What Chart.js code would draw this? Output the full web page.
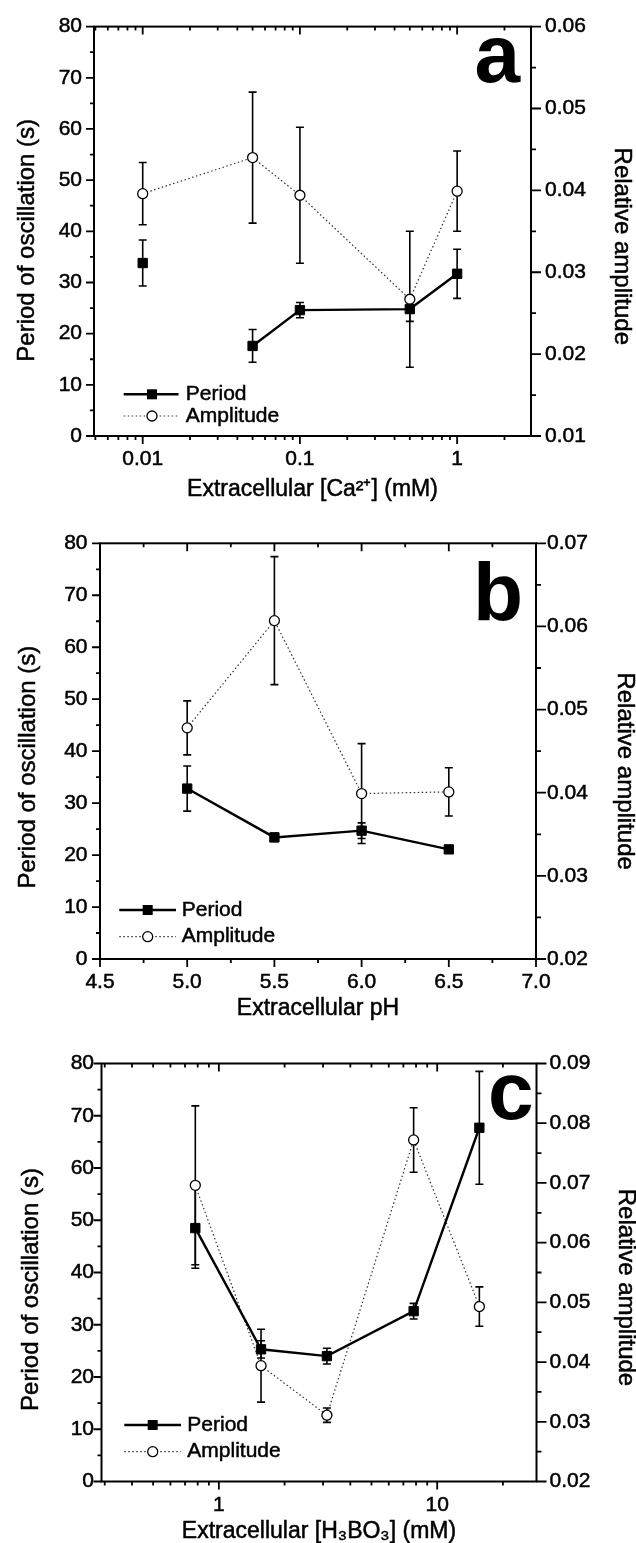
<!DOCTYPE html>
<html>
<head>
<meta charset="utf-8">
<script src="https://cdn.jsdelivr.net/npm/chart.js@4.4.1/dist/chart.umd.min.js"></script>
<style>
html, body { margin: 0; padding: 0; background: #fff; overflow: hidden; }
#wrap { position: relative; width: 636px; height: 1543px; }
canvas { position: absolute; left: 0; }
</style>
</head>
<body>
<div id="wrap">
  <canvas id="chartA" width="636" height="515" style="top:0px"></canvas>
  <canvas id="chartB" width="636" height="523" style="top:515px"></canvas>
  <canvas id="chartC" width="636" height="531" style="top:1030px"></canvas>
</div>
<script>
// (a) calcium
const caConc = [0.01, 0.05, 0.1, 0.5, 1];
const caPeriod = [33.8, 17.6, 24.6, 24.8, 31.7];
const caPeriodErr = [4.5, 3.2, 1.5, 2.4, 4.8];
const caAmp = [0.0396, 0.0440, 0.0394, 0.0267, 0.0399];
const caAmpErr = [0.0038, 0.0080, 0.0083, 0.0083, 0.0049];

// (b) pH
const phValues = [5.0, 5.5, 6.0, 6.5];
const phPeriod = [32.8, 23.4, 24.7, 21.1];
const phPeriodErr = [4.35, 0.8, 1.5, 0.6];
const phAmp = [0.0478, 0.0607, 0.0399, 0.0401];
const phAmpErr = [0.00325, 0.0077, 0.0060, 0.0029];

// (c) boric acid
const boricConc = [0.78, 1.56, 3.125, 7.8, 15.6];
const boricPeriod = [48.5, 25.3, 24.0, 32.6, 67.7];
const boricPeriodErr = [7.7, 1.65, 1.5, 1.5, 10.8];
const boricAmp = [0.0696, 0.0394, 0.0311, 0.0772, 0.0493];
const boricAmpErr = [0.0133, 0.0061, 0.0012, 0.0054, 0.0033];

// tick labels
const periodTicks = [0, 10, 20, 30, 40, 50, 60, 70, 80];
const caTicks = [0.01, 0.1, 1];
const phTicks = [4.5, 5.0, 5.5, 6.0, 6.5, 7.0];
const boricTicks = [1, 10];
const ampTicksA = [0.01, 0.02, 0.03, 0.04, 0.05, 0.06];
const ampTicksB = [0.02, 0.03, 0.04, 0.05, 0.06, 0.07];
const ampTicksC = [0.02, 0.03, 0.04, 0.05, 0.06, 0.07, 0.08, 0.09];

const leftTitle = 'Period of oscillation (s)';
const rightTitle = 'Relative amplitude';

Chart.defaults.font.family = "'Liberation Sans', Arial, sans-serif";
Chart.defaults.color = '#000';

const FONT = "'Liberation Sans', Arial, sans-serif";
const INK = 0.5;   // slight stroke so text looks as heavy as the print

const panels = [
    {
        canvas: 'chartA', letter: 'a',
        xType: 'logarithmic', xMin: 0.0049, xMax: 2.95, xTicks: caTicks, xFmt: v => String(v),
        xs: caConc, period: caPeriod, periodErr: caPeriodErr, periodBreak: 0,
        amp: caAmp, ampErr: caAmpErr,
        rMin: 0.01, rMax: 0.06, rTicks: ampTicksA,
        xTitle: 'Extracellular [Ca²⁺] (mM)',
        box: { padTop: 24.5, leftW: 94, rightW: 105, xH: 79 },
        pads: { left: 12, right: 14 },
        titles: { xDy: 54, lx: 27, lDy: 9, rx: 621.7, rDy: 15 },
        leg: { x0: 29.7, x1: 84.5, mx: 58, tx: 91.8, r1: -41.7, r2: -20 },
        let: { dx: -11, dy: 55.5 }
    },
    {
        canvas: 'chartB', letter: 'b',
        xType: 'linear', xMin: 4.5, xMax: 7.0, xTicks: phTicks, xFmt: v => v.toFixed(1),
        xs: phValues, period: phPeriod, periodErr: phPeriodErr, periodBreak: -1,
        amp: phAmp, ampErr: phAmpErr,
        rMin: 0.02, rMax: 0.07, rTicks: ampTicksB,
        xTitle: 'Extracellular pH',
        box: { padTop: 28.3, leftW: 100, rightW: 100, xH: 79 },
        pads: { left: 12.5, right: 11 },
        titles: { xDy: 50, lx: 28, lDy: 16, rx: 624.5, rDy: 20 },
        leg: { x0: 19.3, x1: 76, mx: 47.7, tx: 81.7, r1: -49, r2: -22.3 },
        let: { dx: -13, dy: 76.7 }
    },
    {
        canvas: 'chartC', letter: 'c',
        xType: 'logarithmic', xMin: 0.29, xMax: 28.5, xTicks: boricTicks, xFmt: v => String(v),
        xs: boricConc, period: boricPeriod, periodErr: boricPeriodErr, periodBreak: -1,
        amp: boricAmp, ampErr: boricAmpErr,
        rMin: 0.02, rMax: 0.09, rTicks: ampTicksC,
        xTitle: 'Extracellular [H₃BO₃] (mM)',
        box: { padTop: 33.5, leftW: 101.5, rightW: 99.5, xH: 79.5 },
        pads: { left: 7.5, right: 13 },
        titles: { xDy: 50, lx: 31, lDy: 17, rx: 626, rDy: 15 },
        leg: { x0: 22.8, x1: 79.5, mx: 51.2, tx: 85.8, r1: -56.5, r2: -29.8 },
        let: { dx: -3, dy: 55.5 }
    }
];

// major + minor tick positions for an axis
function tickMarks(scale, majors) {
    const out = [];
    if (scale.type === 'logarithmic') {
        const e0 = Math.floor(Math.log10(scale.min));
        const e1 = Math.ceil(Math.log10(scale.max));
        for (let e = e0; e <= e1; e++) {
            for (let k = 1; k <= 9; k++) {
                const v = k * Math.pow(10, e);
                if (v >= scale.min * 0.999 && v <= scale.max * 1.001) out.push({ v, major: k === 1 });
            }
        }
    } else {
        for (let i = 0; i < majors.length; i++) {
            out.push({ v: majors[i], major: true });
            if (i < majors.length - 1) out.push({ v: (majors[i] + majors[i + 1]) / 2, major: false });
        }
    }
    return out;
}

function inkText(ctx, text, x, y) {
    ctx.fillText(text, x, y);
    ctx.strokeText(text, x, y);
}

// error bars under the lines and markers
const errorBars = {
    id: 'errorBars',
    beforeDatasetsDraw(chart) {
        const ctx = chart.ctx;
        ctx.save();
        ctx.strokeStyle = '#000';
        ctx.lineWidth = 1.6;
        chart.data.datasets.forEach((ds, i) => {
            const meta = chart.getDatasetMeta(i);
            const xs = chart.scales[meta.xAxisID];
            const ys = chart.scales[meta.yAxisID];
            ds.data.forEach((p, j) => {
                const e = ds.errors[j];
                const px = xs.getPixelForValue(p.x);
                const yHi = ys.getPixelForValue(p.y + e);
                const yLo = ys.getPixelForValue(p.y - e);
                ctx.beginPath();
                ctx.moveTo(px, yHi); ctx.lineTo(px, yLo);
                ctx.moveTo(px - 4, yHi); ctx.lineTo(px + 4, yHi);
                ctx.moveTo(px - 4, yLo); ctx.lineTo(px + 4, yLo);
                ctx.stroke();
            });
        });
        ctx.restore();
    }
};

// frame, tick marks, axis titles, legend and panel letter
const decorations = {
    id: 'decorations',
    afterDraw(chart, args, opts) {
        const p = opts.panel;
        const ctx = chart.ctx;
        const { left, right, top, bottom } = chart.chartArea;
        const midY = (top + bottom) / 2;
        ctx.save();
        ctx.strokeStyle = '#000';
        ctx.lineWidth = 2;
        ctx.strokeRect(left, top, right - left, bottom - top);

        ctx.lineWidth = 1.8;
        ctx.beginPath();
        tickMarks(chart.scales.x, p.xTicks).forEach(t => {
            const px = chart.scales.x.getPixelForValue(t.v);
            const len = t.major ? 8 : 4;
            ctx.moveTo(px, bottom); ctx.lineTo(px, bottom + len);
            ctx.moveTo(px, top); ctx.lineTo(px, top + len);
        });
        tickMarks(chart.scales.y, periodTicks).forEach(t => {
            const py = chart.scales.y.getPixelForValue(t.v);
            const len = t.major ? 8 : 4;
            ctx.moveTo(left - len, py); ctx.lineTo(left, py);
        });
        tickMarks(chart.scales.y1, p.rTicks).forEach(t => {
            const py = chart.scales.y1.getPixelForValue(t.v);
            const len = t.major ? 10 : 5;
            ctx.moveTo(right, py); ctx.lineTo(right + len, py);
        });
        ctx.stroke();

        // axis titles
        const T = p.titles;
        ctx.fillStyle = '#000';
        ctx.lineWidth = INK;
        ctx.textAlign = 'center';
        ctx.textBaseline = 'middle';
        ctx.font = '23px ' + FONT;
        inkText(ctx, p.xTitle, (left + right) / 2, bottom + T.xDy);
        ctx.font = '24px ' + FONT;
        ctx.save();
        ctx.translate(T.lx, midY + T.lDy);
        ctx.rotate(-Math.PI / 2);
        inkText(ctx, leftTitle, 0, 0);
        ctx.restore();
        ctx.save();
        ctx.translate(T.rx, midY + T.rDy);
        ctx.rotate(Math.PI / 2);
        inkText(ctx, rightTitle, 0, 0);
        ctx.restore();

        // legend
        const L = p.leg;
        const yP = bottom + L.r1, yA = bottom + L.r2;
        ctx.lineWidth = 2.4;
        ctx.beginPath();
        ctx.moveTo(left + L.x0, yP); ctx.lineTo(left + L.x1, yP);
        ctx.stroke();
        ctx.fillRect(left + L.mx - 5, yP - 5, 10, 10);
        ctx.strokeStyle = '#333';
        ctx.lineWidth = 1.2;
        ctx.setLineDash([1.5, 2.5]);
        ctx.beginPath();
        ctx.moveTo(left + L.x0, yA); ctx.lineTo(left + L.x1, yA);
        ctx.stroke();
        ctx.setLineDash([]);
        ctx.beginPath();
        ctx.arc(left + L.mx, yA, 5, 0, Math.PI * 2);
        ctx.fillStyle = '#fff';
        ctx.fill();
        ctx.strokeStyle = '#000';
        ctx.lineWidth = 1.3;
        ctx.stroke();
        ctx.fillStyle = '#000';
        ctx.lineWidth = INK;
        ctx.font = '21px ' + FONT;
        ctx.textAlign = 'left';
        inkText(ctx, 'Period', left + L.tx, yP);
        inkText(ctx, 'Amplitude', left + L.tx, yA);

        // panel letter
        ctx.font = 'bold 82px ' + FONT;
        ctx.textAlign = 'right';
        ctx.textBaseline = 'alphabetic';
        ctx.fillText(p.letter, right + p.let.dx, top + p.let.dy);
        ctx.restore();
    }
};

function tickFont() {
    return { padding: 0, font: { size: 21 }, textStrokeWidth: INK, textStrokeColor: '#000' };
}

function makeChart(p) {
    const b = p.box;
    return new Chart(document.getElementById(p.canvas), {
        type: 'line',
        data: {
            datasets: [{
                label: 'Period',
                data: p.xs.map((x, i) => ({ x: x, y: p.period[i] })),
                errors: p.periodErr,
                yAxisID: 'y',
                borderColor: '#000',
                borderWidth: 2.4,
                backgroundColor: '#000',
                pointStyle: 'rect',
                pointRadius: 6.6,
                pointBorderWidth: 1,
                pointBackgroundColor: '#000',
                tension: 0,
                segment: {
                    borderColor: ctx => ctx.p0DataIndex === p.periodBreak ? 'rgba(0,0,0,0)' : undefined
                }
            }, {
                label: 'Amplitude',
                data: p.xs.map((x, i) => ({ x: x, y: p.amp[i] })),
                errors: p.ampErr,
                yAxisID: 'y1',
                borderColor: '#333',
                borderWidth: 1.2,
                borderDash: [1.5, 2.5],
                pointStyle: 'circle',
                pointRadius: 5,
                pointBorderWidth: 1.3,
                pointBorderColor: '#000',
                pointBackgroundColor: '#fff',
                tension: 0
            }]
        },
        options: {
            responsive: false,
            animation: false,
            layout: { padding: { top: b.padTop, left: 0, right: 0, bottom: 0 } },
            plugins: {
                legend: { display: false },
                tooltip: { enabled: false },
                decorations: { panel: p }
            },
            scales: {
                x: {
                    type: p.xType, position: 'bottom', min: p.xMin, max: p.xMax,
                    grid: { display: false, drawTicks: false },
                    border: { display: false },
                    ticks: { ...tickFont(), autoSkip: false, maxRotation: 0, padding: 11, callback: v => p.xFmt(v) },
                    afterBuildTicks: s => { s.ticks = p.xTicks.map(v => ({ value: v })); },
                    afterFit: s => { s.height = b.xH; }
                },
                y: {
                    type: 'linear', position: 'left', min: 0, max: 80,
                    grid: { display: false, drawTicks: false },
                    border: { display: false },
                    ticks: { ...tickFont(), padding: p.pads.left, callback: v => String(v) },
                    afterBuildTicks: s => { s.ticks = periodTicks.map(v => ({ value: v })); },
                    afterFit: s => { s.width = b.leftW; }
                },
                y1: {
                    type: 'linear', position: 'right', min: p.rMin, max: p.rMax,
                    grid: { display: false, drawTicks: false },
                    border: { display: false },
                    ticks: { ...tickFont(), padding: p.pads.right, callback: v => v.toFixed(2) },
                    afterBuildTicks: s => { s.ticks = p.rTicks.map(v => ({ value: v })); },
                    afterFit: s => { s.width = b.rightW; }
                }
            }
        },
        plugins: [errorBars, decorations]
    });
}

panels.forEach(makeChart);
</script>
</body>
</html>
